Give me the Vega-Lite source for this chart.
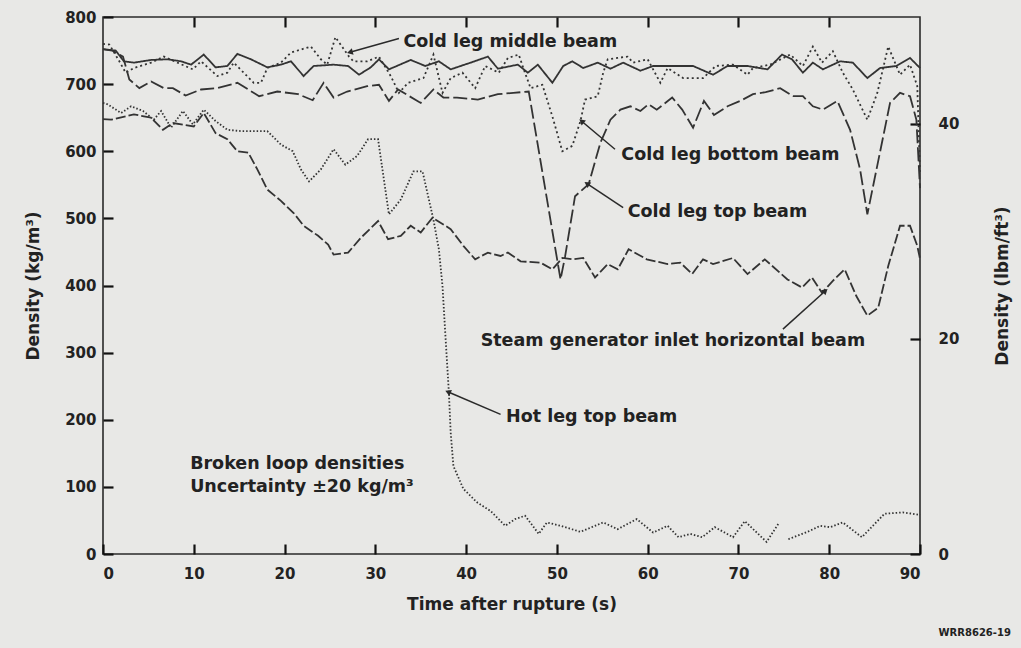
{
  "$schema": "https://vega.github.io/schema/vega-lite/v6.json",
  "width": 817,
  "height": 537,
  "autosize": {"type": "none"},
  "padding": {"left": 103, "top": 17, "right": 101, "bottom": 94},
  "background": "#e8e8e6",
  "title": {"text": "WRR8626-19", "orient": "bottom", "anchor": "end", "fontSize": 10, "offset": 16, "font": "DejaVu Sans", "fontWeight": "bold", "color": "#222"},
  "config": {
    "view": {"stroke": "#2a2a2a", "strokeWidth": 1.6},
    "font": "DejaVu Sans",
    "axis": {"grid": false, "domain": false, "labelFont": "DejaVu Sans", "labelFontWeight": "bold", "labelFontSize": 15, "labelColor": "#222", "titleFont": "DejaVu Sans", "titleFontWeight": "bold", "titleFontSize": 17, "titleColor": "#222"}
  },
  "datasets": {
    "lines": [
      {"series": "Cold leg middle beam", "t": 0, "d": 752}, {"series": "Cold leg middle beam", "t": 1.4, "d": 750}, {"series": "Cold leg middle beam", "t": 2.3, "d": 734}, {"series": "Cold leg middle beam", "t": 3.4, "d": 732}, {"series": "Cold leg middle beam", "t": 5.3, "d": 736}, {"series": "Cold leg middle beam", "t": 7.1, "d": 737}, {"series": "Cold leg middle beam", "t": 8.6, "d": 734}, {"series": "Cold leg middle beam", "t": 9.7, "d": 729}, {"series": "Cold leg middle beam", "t": 11.1, "d": 744}, {"series": "Cold leg middle beam", "t": 12.4, "d": 725}, {"series": "Cold leg middle beam", "t": 13.7, "d": 727}, {"series": "Cold leg middle beam", "t": 14.8, "d": 745}, {"series": "Cold leg middle beam", "t": 16.3, "d": 737}, {"series": "Cold leg middle beam", "t": 18.1, "d": 725}, {"series": "Cold leg middle beam", "t": 19.6, "d": 729}, {"series": "Cold leg middle beam", "t": 20.7, "d": 734}, {"series": "Cold leg middle beam", "t": 22.1, "d": 712}, {"series": "Cold leg middle beam", "t": 23.2, "d": 727}, {"series": "Cold leg middle beam", "t": 25.4, "d": 729}, {"series": "Cold leg middle beam", "t": 27, "d": 727}, {"series": "Cold leg middle beam", "t": 28.2, "d": 714}, {"series": "Cold leg middle beam", "t": 29.5, "d": 725}, {"series": "Cold leg middle beam", "t": 30.4, "d": 737}, {"series": "Cold leg middle beam", "t": 31.5, "d": 722}, {"series": "Cold leg middle beam", "t": 33.9, "d": 736}, {"series": "Cold leg middle beam", "t": 35.5, "d": 727}, {"series": "Cold leg middle beam", "t": 37, "d": 734}, {"series": "Cold leg middle beam", "t": 38.3, "d": 722}, {"series": "Cold leg middle beam", "t": 40.5, "d": 732}, {"series": "Cold leg middle beam", "t": 42.4, "d": 741}, {"series": "Cold leg middle beam", "t": 43.5, "d": 723}, {"series": "Cold leg middle beam", "t": 45.7, "d": 729}, {"series": "Cold leg middle beam", "t": 46.8, "d": 717}, {"series": "Cold leg middle beam", "t": 47.9, "d": 729}, {"series": "Cold leg middle beam", "t": 49.5, "d": 702}, {"series": "Cold leg middle beam", "t": 50.7, "d": 727}, {"series": "Cold leg middle beam", "t": 51.7, "d": 734}, {"series": "Cold leg middle beam", "t": 52.9, "d": 724}, {"series": "Cold leg middle beam", "t": 54.5, "d": 732}, {"series": "Cold leg middle beam", "t": 55.9, "d": 723}, {"series": "Cold leg middle beam", "t": 57.3, "d": 732}, {"series": "Cold leg middle beam", "t": 59.2, "d": 720}, {"series": "Cold leg middle beam", "t": 60.6, "d": 727}, {"series": "Cold leg middle beam", "t": 62.8, "d": 727}, {"series": "Cold leg middle beam", "t": 65, "d": 727}, {"series": "Cold leg middle beam", "t": 67.2, "d": 714}, {"series": "Cold leg middle beam", "t": 68.8, "d": 727}, {"series": "Cold leg middle beam", "t": 71, "d": 727}, {"series": "Cold leg middle beam", "t": 73.2, "d": 722}, {"series": "Cold leg middle beam", "t": 74.8, "d": 744}, {"series": "Cold leg middle beam", "t": 75.9, "d": 737}, {"series": "Cold leg middle beam", "t": 77.1, "d": 717}, {"series": "Cold leg middle beam", "t": 78.2, "d": 732}, {"series": "Cold leg middle beam", "t": 79.3, "d": 722}, {"series": "Cold leg middle beam", "t": 81.2, "d": 734}, {"series": "Cold leg middle beam", "t": 82.6, "d": 732}, {"series": "Cold leg middle beam", "t": 84.2, "d": 709}, {"series": "Cold leg middle beam", "t": 85.6, "d": 724}, {"series": "Cold leg middle beam", "t": 87.4, "d": 727}, {"series": "Cold leg middle beam", "t": 88.9, "d": 739}, {"series": "Cold leg middle beam", "t": 90, "d": 724},

      {"series": "Cold leg bottom beam", "t": 0, "d": 760}, {"series": "Cold leg bottom beam", "t": 0.7, "d": 759}, {"series": "Cold leg bottom beam", "t": 1.8, "d": 734}, {"series": "Cold leg bottom beam", "t": 2.5, "d": 717}, {"series": "Cold leg bottom beam", "t": 3.4, "d": 724}, {"series": "Cold leg bottom beam", "t": 5.3, "d": 732}, {"series": "Cold leg bottom beam", "t": 6.7, "d": 741}, {"series": "Cold leg bottom beam", "t": 8.2, "d": 732}, {"series": "Cold leg bottom beam", "t": 9.9, "d": 722}, {"series": "Cold leg bottom beam", "t": 10.8, "d": 734}, {"series": "Cold leg bottom beam", "t": 12.6, "d": 712}, {"series": "Cold leg bottom beam", "t": 13.7, "d": 717}, {"series": "Cold leg bottom beam", "t": 14.4, "d": 732}, {"series": "Cold leg bottom beam", "t": 15.5, "d": 717}, {"series": "Cold leg bottom beam", "t": 16.6, "d": 702}, {"series": "Cold leg bottom beam", "t": 17.4, "d": 702}, {"series": "Cold leg bottom beam", "t": 18.1, "d": 724}, {"series": "Cold leg bottom beam", "t": 19.6, "d": 732}, {"series": "Cold leg bottom beam", "t": 20.7, "d": 747}, {"series": "Cold leg bottom beam", "t": 22.9, "d": 756}, {"series": "Cold leg bottom beam", "t": 24, "d": 737}, {"series": "Cold leg bottom beam", "t": 24.7, "d": 729}, {"series": "Cold leg bottom beam", "t": 25.6, "d": 770}, {"series": "Cold leg bottom beam", "t": 27.1, "d": 741}, {"series": "Cold leg bottom beam", "t": 27.6, "d": 734}, {"series": "Cold leg bottom beam", "t": 29.1, "d": 734}, {"series": "Cold leg bottom beam", "t": 30.4, "d": 741}, {"series": "Cold leg bottom beam", "t": 31.7, "d": 712}, {"series": "Cold leg bottom beam", "t": 32.6, "d": 687}, {"series": "Cold leg bottom beam", "t": 33.6, "d": 702}, {"series": "Cold leg bottom beam", "t": 35.3, "d": 709}, {"series": "Cold leg bottom beam", "t": 36.4, "d": 744}, {"series": "Cold leg bottom beam", "t": 37.4, "d": 687}, {"series": "Cold leg bottom beam", "t": 38.3, "d": 709}, {"series": "Cold leg bottom beam", "t": 39.6, "d": 717}, {"series": "Cold leg bottom beam", "t": 41, "d": 694}, {"series": "Cold leg bottom beam", "t": 42.1, "d": 727}, {"series": "Cold leg bottom beam", "t": 43.6, "d": 717}, {"series": "Cold leg bottom beam", "t": 44.6, "d": 739}, {"series": "Cold leg bottom beam", "t": 45.8, "d": 744}, {"series": "Cold leg bottom beam", "t": 46.3, "d": 724}, {"series": "Cold leg bottom beam", "t": 47.1, "d": 694}, {"series": "Cold leg bottom beam", "t": 48.4, "d": 699}, {"series": "Cold leg bottom beam", "t": 49.5, "d": 652}, {"series": "Cold leg bottom beam", "t": 50.6, "d": 600}, {"series": "Cold leg bottom beam", "t": 51.7, "d": 608}, {"series": "Cold leg bottom beam", "t": 52.6, "d": 645}, {"series": "Cold leg bottom beam", "t": 53.1, "d": 677}, {"series": "Cold leg bottom beam", "t": 54.5, "d": 682}, {"series": "Cold leg bottom beam", "t": 55.1, "d": 717}, {"series": "Cold leg bottom beam", "t": 55.6, "d": 737}, {"series": "Cold leg bottom beam", "t": 56.7, "d": 739}, {"series": "Cold leg bottom beam", "t": 57.8, "d": 741}, {"series": "Cold leg bottom beam", "t": 58.4, "d": 732}, {"series": "Cold leg bottom beam", "t": 60, "d": 737}, {"series": "Cold leg bottom beam", "t": 61.4, "d": 702}, {"series": "Cold leg bottom beam", "t": 62.2, "d": 724}, {"series": "Cold leg bottom beam", "t": 63.9, "d": 709}, {"series": "Cold leg bottom beam", "t": 66.1, "d": 709}, {"series": "Cold leg bottom beam", "t": 67.5, "d": 727}, {"series": "Cold leg bottom beam", "t": 69.4, "d": 729}, {"series": "Cold leg bottom beam", "t": 71, "d": 714}, {"series": "Cold leg bottom beam", "t": 71.6, "d": 724}, {"series": "Cold leg bottom beam", "t": 73.5, "d": 729}, {"series": "Cold leg bottom beam", "t": 75.7, "d": 744}, {"series": "Cold leg bottom beam", "t": 77.1, "d": 727}, {"series": "Cold leg bottom beam", "t": 78.2, "d": 756}, {"series": "Cold leg bottom beam", "t": 79.2, "d": 732}, {"series": "Cold leg bottom beam", "t": 80.4, "d": 749}, {"series": "Cold leg bottom beam", "t": 81.5, "d": 717}, {"series": "Cold leg bottom beam", "t": 82.6, "d": 692}, {"series": "Cold leg bottom beam", "t": 84.2, "d": 647}, {"series": "Cold leg bottom beam", "t": 85.3, "d": 687}, {"series": "Cold leg bottom beam", "t": 86.5, "d": 756}, {"series": "Cold leg bottom beam", "t": 87.8, "d": 714}, {"series": "Cold leg bottom beam", "t": 88.9, "d": 729}, {"series": "Cold leg bottom beam", "t": 89.7, "d": 697}, {"series": "Cold leg bottom beam", "t": 90, "d": 565},

      {"series": "Cold leg top beam", "t": 0, "d": 752}, {"series": "Cold leg top beam", "t": 1, "d": 750}, {"series": "Cold leg top beam", "t": 2.2, "d": 741}, {"series": "Cold leg top beam", "t": 2.9, "d": 707}, {"series": "Cold leg top beam", "t": 4, "d": 694}, {"series": "Cold leg top beam", "t": 5.3, "d": 704}, {"series": "Cold leg top beam", "t": 6.7, "d": 694}, {"series": "Cold leg top beam", "t": 7.7, "d": 694}, {"series": "Cold leg top beam", "t": 9.1, "d": 683}, {"series": "Cold leg top beam", "t": 10.8, "d": 692}, {"series": "Cold leg top beam", "t": 12.6, "d": 694}, {"series": "Cold leg top beam", "t": 14.8, "d": 702}, {"series": "Cold leg top beam", "t": 17.2, "d": 682}, {"series": "Cold leg top beam", "t": 19.2, "d": 689}, {"series": "Cold leg top beam", "t": 21.5, "d": 685}, {"series": "Cold leg top beam", "t": 23.1, "d": 676}, {"series": "Cold leg top beam", "t": 24.3, "d": 702}, {"series": "Cold leg top beam", "t": 25.4, "d": 680}, {"series": "Cold leg top beam", "t": 26.9, "d": 689}, {"series": "Cold leg top beam", "t": 29.1, "d": 697}, {"series": "Cold leg top beam", "t": 30.4, "d": 699}, {"series": "Cold leg top beam", "t": 31.5, "d": 675}, {"series": "Cold leg top beam", "t": 32.5, "d": 692}, {"series": "Cold leg top beam", "t": 35, "d": 672}, {"series": "Cold leg top beam", "t": 36.4, "d": 692}, {"series": "Cold leg top beam", "t": 37.5, "d": 680}, {"series": "Cold leg top beam", "t": 39, "d": 680}, {"series": "Cold leg top beam", "t": 41.3, "d": 677}, {"series": "Cold leg top beam", "t": 43.5, "d": 685}, {"series": "Cold leg top beam", "t": 45.2, "d": 687}, {"series": "Cold leg top beam", "t": 46.9, "d": 689}, {"series": "Cold leg top beam", "t": 50.4, "d": 409}, {"series": "Cold leg top beam", "t": 50.9, "d": 443}, {"series": "Cold leg top beam", "t": 52, "d": 533}, {"series": "Cold leg top beam", "t": 53.5, "d": 551}, {"series": "Cold leg top beam", "t": 54.8, "d": 613}, {"series": "Cold leg top beam", "t": 55.9, "d": 647}, {"series": "Cold leg top beam", "t": 57, "d": 662}, {"series": "Cold leg top beam", "t": 58.1, "d": 667}, {"series": "Cold leg top beam", "t": 59.2, "d": 660}, {"series": "Cold leg top beam", "t": 60.1, "d": 670}, {"series": "Cold leg top beam", "t": 61, "d": 662}, {"series": "Cold leg top beam", "t": 62.7, "d": 680}, {"series": "Cold leg top beam", "t": 63.8, "d": 662}, {"series": "Cold leg top beam", "t": 65, "d": 635}, {"series": "Cold leg top beam", "t": 66.2, "d": 675}, {"series": "Cold leg top beam", "t": 67.3, "d": 654}, {"series": "Cold leg top beam", "t": 68.8, "d": 667}, {"series": "Cold leg top beam", "t": 70.2, "d": 675}, {"series": "Cold leg top beam", "t": 71.6, "d": 685}, {"series": "Cold leg top beam", "t": 73, "d": 688}, {"series": "Cold leg top beam", "t": 74.6, "d": 694}, {"series": "Cold leg top beam", "t": 76, "d": 682}, {"series": "Cold leg top beam", "t": 77.1, "d": 682}, {"series": "Cold leg top beam", "t": 78.2, "d": 667}, {"series": "Cold leg top beam", "t": 79.3, "d": 662}, {"series": "Cold leg top beam", "t": 80.9, "d": 675}, {"series": "Cold leg top beam", "t": 82.3, "d": 632}, {"series": "Cold leg top beam", "t": 83.4, "d": 573}, {"series": "Cold leg top beam", "t": 84.2, "d": 506}, {"series": "Cold leg top beam", "t": 86.7, "d": 672}, {"series": "Cold leg top beam", "t": 87.8, "d": 687}, {"series": "Cold leg top beam", "t": 88.9, "d": 682}, {"series": "Cold leg top beam", "t": 89.6, "d": 647}, {"series": "Cold leg top beam", "t": 90, "d": 545},

      {"series": "Steam generator inlet horizontal beam", "t": 0, "d": 648}, {"series": "Steam generator inlet horizontal beam", "t": 0.9, "d": 647}, {"series": "Steam generator inlet horizontal beam", "t": 3.4, "d": 655}, {"series": "Steam generator inlet horizontal beam", "t": 5.3, "d": 650}, {"series": "Steam generator inlet horizontal beam", "t": 6.6, "d": 632}, {"series": "Steam generator inlet horizontal beam", "t": 7.7, "d": 642}, {"series": "Steam generator inlet horizontal beam", "t": 10, "d": 637}, {"series": "Steam generator inlet horizontal beam", "t": 11.1, "d": 657}, {"series": "Steam generator inlet horizontal beam", "t": 12.4, "d": 627}, {"series": "Steam generator inlet horizontal beam", "t": 13.7, "d": 618}, {"series": "Steam generator inlet horizontal beam", "t": 14.8, "d": 600}, {"series": "Steam generator inlet horizontal beam", "t": 16, "d": 598}, {"series": "Steam generator inlet horizontal beam", "t": 17, "d": 573}, {"series": "Steam generator inlet horizontal beam", "t": 18.1, "d": 543}, {"series": "Steam generator inlet horizontal beam", "t": 19.6, "d": 526}, {"series": "Steam generator inlet horizontal beam", "t": 21, "d": 508}, {"series": "Steam generator inlet horizontal beam", "t": 22.1, "d": 489}, {"series": "Steam generator inlet horizontal beam", "t": 23.7, "d": 474}, {"series": "Steam generator inlet horizontal beam", "t": 24.8, "d": 461}, {"series": "Steam generator inlet horizontal beam", "t": 25.4, "d": 446}, {"series": "Steam generator inlet horizontal beam", "t": 27, "d": 449}, {"series": "Steam generator inlet horizontal beam", "t": 28.4, "d": 471}, {"series": "Steam generator inlet horizontal beam", "t": 30.3, "d": 496}, {"series": "Steam generator inlet horizontal beam", "t": 31.4, "d": 469}, {"series": "Steam generator inlet horizontal beam", "t": 32.8, "d": 474}, {"series": "Steam generator inlet horizontal beam", "t": 33.9, "d": 489}, {"series": "Steam generator inlet horizontal beam", "t": 35, "d": 479}, {"series": "Steam generator inlet horizontal beam", "t": 36.3, "d": 501}, {"series": "Steam generator inlet horizontal beam", "t": 38.3, "d": 484}, {"series": "Steam generator inlet horizontal beam", "t": 39.7, "d": 459}, {"series": "Steam generator inlet horizontal beam", "t": 41, "d": 439}, {"series": "Steam generator inlet horizontal beam", "t": 42.4, "d": 449}, {"series": "Steam generator inlet horizontal beam", "t": 43.8, "d": 444}, {"series": "Steam generator inlet horizontal beam", "t": 44.6, "d": 449}, {"series": "Steam generator inlet horizontal beam", "t": 46, "d": 436}, {"series": "Steam generator inlet horizontal beam", "t": 48.2, "d": 434}, {"series": "Steam generator inlet horizontal beam", "t": 49.5, "d": 424}, {"series": "Steam generator inlet horizontal beam", "t": 50.6, "d": 441}, {"series": "Steam generator inlet horizontal beam", "t": 51.8, "d": 439}, {"series": "Steam generator inlet horizontal beam", "t": 52.9, "d": 441}, {"series": "Steam generator inlet horizontal beam", "t": 54.2, "d": 412}, {"series": "Steam generator inlet horizontal beam", "t": 55.6, "d": 432}, {"series": "Steam generator inlet horizontal beam", "t": 56.7, "d": 424}, {"series": "Steam generator inlet horizontal beam", "t": 57.9, "d": 454}, {"series": "Steam generator inlet horizontal beam", "t": 59.9, "d": 439}, {"series": "Steam generator inlet horizontal beam", "t": 62.2, "d": 432}, {"series": "Steam generator inlet horizontal beam", "t": 63.6, "d": 434}, {"series": "Steam generator inlet horizontal beam", "t": 64.9, "d": 417}, {"series": "Steam generator inlet horizontal beam", "t": 66.1, "d": 439}, {"series": "Steam generator inlet horizontal beam", "t": 67.2, "d": 432}, {"series": "Steam generator inlet horizontal beam", "t": 69.4, "d": 441}, {"series": "Steam generator inlet horizontal beam", "t": 71, "d": 417}, {"series": "Steam generator inlet horizontal beam", "t": 72.9, "d": 439}, {"series": "Steam generator inlet horizontal beam", "t": 75.4, "d": 409}, {"series": "Steam generator inlet horizontal beam", "t": 77, "d": 397}, {"series": "Steam generator inlet horizontal beam", "t": 78.1, "d": 412}, {"series": "Steam generator inlet horizontal beam", "t": 79.2, "d": 389}, {"series": "Steam generator inlet horizontal beam", "t": 80.4, "d": 407}, {"series": "Steam generator inlet horizontal beam", "t": 81.7, "d": 424}, {"series": "Steam generator inlet horizontal beam", "t": 83, "d": 384}, {"series": "Steam generator inlet horizontal beam", "t": 84.2, "d": 355}, {"series": "Steam generator inlet horizontal beam", "t": 85.4, "d": 367}, {"series": "Steam generator inlet horizontal beam", "t": 86.5, "d": 429}, {"series": "Steam generator inlet horizontal beam", "t": 87.8, "d": 489}, {"series": "Steam generator inlet horizontal beam", "t": 88.9, "d": 489}, {"series": "Steam generator inlet horizontal beam", "t": 89.7, "d": 459}, {"series": "Steam generator inlet horizontal beam", "t": 90, "d": 440},

      {"series": "Hot leg top beam", "t": 0, "d": 672}, {"series": "Hot leg top beam", "t": 0.5, "d": 670}, {"series": "Hot leg top beam", "t": 2, "d": 657}, {"series": "Hot leg top beam", "t": 3.1, "d": 667}, {"series": "Hot leg top beam", "t": 4.4, "d": 660}, {"series": "Hot leg top beam", "t": 5.6, "d": 647}, {"series": "Hot leg top beam", "t": 6.4, "d": 660}, {"series": "Hot leg top beam", "t": 7.5, "d": 635}, {"series": "Hot leg top beam", "t": 8.8, "d": 660}, {"series": "Hot leg top beam", "t": 9.9, "d": 640}, {"series": "Hot leg top beam", "t": 11.1, "d": 662}, {"series": "Hot leg top beam", "t": 12.4, "d": 645}, {"series": "Hot leg top beam", "t": 13.7, "d": 632}, {"series": "Hot leg top beam", "t": 15.2, "d": 630}, {"series": "Hot leg top beam", "t": 18.1, "d": 630}, {"series": "Hot leg top beam", "t": 19.6, "d": 610}, {"series": "Hot leg top beam", "t": 20.9, "d": 600}, {"series": "Hot leg top beam", "t": 21.8, "d": 573}, {"series": "Hot leg top beam", "t": 22.7, "d": 555}, {"series": "Hot leg top beam", "t": 24, "d": 573}, {"series": "Hot leg top beam", "t": 25.4, "d": 603}, {"series": "Hot leg top beam", "t": 26.7, "d": 580}, {"series": "Hot leg top beam", "t": 28, "d": 593}, {"series": "Hot leg top beam", "t": 29.2, "d": 618}, {"series": "Hot leg top beam", "t": 30.3, "d": 618}, {"series": "Hot leg top beam", "t": 31.5, "d": 506}, {"series": "Hot leg top beam", "t": 32.8, "d": 528}, {"series": "Hot leg top beam", "t": 34.2, "d": 570}, {"series": "Hot leg top beam", "t": 35.2, "d": 570}, {"series": "Hot leg top beam", "t": 36.4, "d": 498}, {"series": "Hot leg top beam", "t": 37, "d": 454}, {"series": "Hot leg top beam", "t": 37.4, "d": 399}, {"series": "Hot leg top beam", "t": 37.7, "d": 330}, {"series": "Hot leg top beam", "t": 38.1, "d": 241}, {"series": "Hot leg top beam", "t": 38.3, "d": 181}, {"series": "Hot leg top beam", "t": 38.6, "d": 131}, {"series": "Hot leg top beam", "t": 39.7, "d": 97}, {"series": "Hot leg top beam", "t": 41.2, "d": 77}, {"series": "Hot leg top beam", "t": 42.7, "d": 64}, {"series": "Hot leg top beam", "t": 44.3, "d": 42}, {"series": "Hot leg top beam", "t": 45.4, "d": 52}, {"series": "Hot leg top beam", "t": 46.5, "d": 57}, {"series": "Hot leg top beam", "t": 48, "d": 30}, {"series": "Hot leg top beam", "t": 48.9, "d": 47}, {"series": "Hot leg top beam", "t": 50.4, "d": 42}, {"series": "Hot leg top beam", "t": 52.6, "d": 33}, {"series": "Hot leg top beam", "t": 55.1, "d": 47}, {"series": "Hot leg top beam", "t": 56.7, "d": 37}, {"series": "Hot leg top beam", "t": 58.8, "d": 52}, {"series": "Hot leg top beam", "t": 60.6, "d": 32}, {"series": "Hot leg top beam", "t": 62.2, "d": 42}, {"series": "Hot leg top beam", "t": 63.4, "d": 25}, {"series": "Hot leg top beam", "t": 64.7, "d": 30}, {"series": "Hot leg top beam", "t": 66, "d": 25}, {"series": "Hot leg top beam", "t": 67.4, "d": 40}, {"series": "Hot leg top beam", "t": 69.4, "d": 25}, {"series": "Hot leg top beam", "t": 70.7, "d": 49}, {"series": "Hot leg top beam", "t": 73.1, "d": 18}, {"series": "Hot leg top beam", "t": 74.4, "d": 45}, {"series": "Hot leg top beam", "t": 74.9, "d": null}, {"series": "Hot leg top beam", "t": 75.5, "d": 22}, {"series": "Hot leg top beam", "t": 77.6, "d": 33}, {"series": "Hot leg top beam", "t": 79, "d": 42}, {"series": "Hot leg top beam", "t": 80.1, "d": 40}, {"series": "Hot leg top beam", "t": 81.5, "d": 47}, {"series": "Hot leg top beam", "t": 83.6, "d": 25}, {"series": "Hot leg top beam", "t": 84.8, "d": 42}, {"series": "Hot leg top beam", "t": 86.1, "d": 60}, {"series": "Hot leg top beam", "t": 88.1, "d": 62}, {"series": "Hot leg top beam", "t": 89.2, "d": 60}, {"series": "Hot leg top beam", "t": 90, "d": 58}
    ],
    "notes": [
      {"label": "Cold leg middle beam", "t": 33.1, "d": 763},
      {"label": "Cold leg bottom beam", "t": 57.1, "d": 595},
      {"label": "Cold leg top beam", "t": 57.8, "d": 510},
      {"label": "Steam generator inlet horizontal beam", "t": 41.6, "d": 317},
      {"label": "Hot leg top beam", "t": 44.4, "d": 204},
      {"label": "Broken loop densities", "t": 9.6, "d": 134},
      {"label": "Uncertainty ±20 kg/m³", "t": 9.6, "d": 100}
    ],
    "arrows": [
      {"label": "Cold leg middle beam", "t": 32.6, "d": 768, "t2": 27.3, "d2": 748},
      {"label": "Cold leg bottom beam", "t": 56.4, "d": 603, "t2": 52.8, "d2": 644},
      {"label": "Cold leg top beam", "t": 57.3, "d": 516, "t2": 53.4, "d2": 551},
      {"label": "Steam generator inlet horizontal beam", "t": 74.9, "d": 335, "t2": 79.5, "d2": 391},
      {"label": "Hot leg top beam", "t": 43.8, "d": 208, "t2": 38.1, "d2": 241}
    ]
  },
  "layer": [
    {
      "layer": [
        {
          "data": {"name": "lines"},
          "mark": {"type": "line", "color": "#333333", "strokeWidth": 1.8, "interpolate": "linear"},
          "encoding": {
            "x": {"field": "t", "type": "quantitative", "scale": {"domain": [0, 90], "nice": false}, "axis": null},
            "y": {"field": "d", "type": "quantitative", "scale": {"domain": [0, 800], "nice": false}, "axis": null},
            "detail": {"field": "series", "type": "nominal"},
            "strokeDash": {"field": "series", "type": "nominal", "legend": null,
                           "scale": {"domain": ["Cold leg middle beam", "Cold leg bottom beam", "Cold leg top beam", "Steam generator inlet horizontal beam", "Hot leg top beam"],
                                     "range": [[1, 0], [2, 3], [14, 4], [10, 3], [1.5, 2]]}}
          }
        },
        {
          "data": {"name": "notes"},
          "mark": {"type": "text", "align": "left", "baseline": "middle", "font": "DejaVu Sans", "fontWeight": "bold", "fontSize": 17.5, "color": "#222222"},
          "encoding": {
            "x": {"field": "t", "type": "quantitative", "axis": null},
            "y": {"field": "d", "type": "quantitative", "axis": null},
            "text": {"field": "label"}
          }
        },
        {
          "data": {"name": "arrows"},
          "mark": {"type": "rule", "color": "#2a2a2a", "strokeWidth": 1.5},
          "encoding": {
            "x": {"field": "t", "type": "quantitative", "axis": null},
            "y": {"field": "d", "type": "quantitative", "axis": null},
            "x2": {"field": "t2"},
            "y2": {"field": "d2"}
          }
        },
        {
          "data": {"name": "arrows"},
          "mark": {"type": "point", "shape": "triangle", "filled": true, "color": "#2a2a2a", "size": 45, "opacity": 1},
          "encoding": {
            "x": {"field": "t2", "type": "quantitative", "axis": null},
            "y": {"field": "d2", "type": "quantitative", "axis": null},
            "angle": {"field": "label", "type": "nominal", "legend": null,
                      "scale": {"type": "ordinal", "domain": ["Cold leg middle beam", "Cold leg bottom beam", "Cold leg top beam", "Steam generator inlet horizontal beam", "Hot leg top beam"], "range": [255, 310, 303, 48, 293]}}
          }
        }
      ]
    },
    {
      "data": {"values": [{"tk": 0, "dk": 0}, {"tk": 90, "dk": 800}]},
      "mark": {"type": "point", "opacity": 0},
      "encoding": {
        "x": {"field": "tk", "type": "quantitative", "scale": {"domain": [0, 90], "nice": false},
              "axis": {"orient": "bottom", "values": [0, 10, 20, 30, 40, 50, 60, 70, 80, 90], "title": "Time after rupture (s)", "ticks": true, "tickColor": "#111111", "tickWidth": 2.2, "tickSize": -10, "labelPadding": 22, "titlePadding": 15}},
        "y": {"field": "dk", "type": "quantitative", "scale": {"domain": [0, 800], "nice": false},
              "axis": {"orient": "left", "values": [0, 100, 200, 300, 400, 500, 600, 700, 800], "title": "Density (kg/m³)", "ticks": true, "tickColor": "#111111", "tickWidth": 2.2, "tickSize": -10, "labelPadding": 17, "titlePadding": 22}}
      }
    },
    {
      "data": {"values": [{"tt": 0, "lbm": 0}, {"tt": 90, "lbm": 40}]},
      "mark": {"type": "point", "opacity": 0},
      "encoding": {
        "x": {"field": "tt", "type": "quantitative", "scale": {"domain": [0, 90], "nice": false},
              "axis": {"orient": "top", "labels": false, "title": null, "ticks": true, "tickColor": "#111111", "tickWidth": 2.2, "tickSize": -10, "values": [10, 20, 30, 40, 50, 60, 70, 80]}},
        "y": {"field": "lbm", "type": "quantitative", "scale": {"domain": [0, 49.94], "nice": false, "zero": true},
              "axis": {"orient": "right", "values": [0, 20, 40], "title": "Density (lbm/ft³)", "ticks": true, "tickColor": "#111111", "tickWidth": 2.2, "tickSize": -10, "titleAngle": 270, "titleBaseline": "top", "labelPadding": 28, "titlePadding": 36}}
      }
    }
  ],
  "resolve": {"scale": {"y": "independent"}, "axis": {"x": "independent", "y": "independent"}}
}
